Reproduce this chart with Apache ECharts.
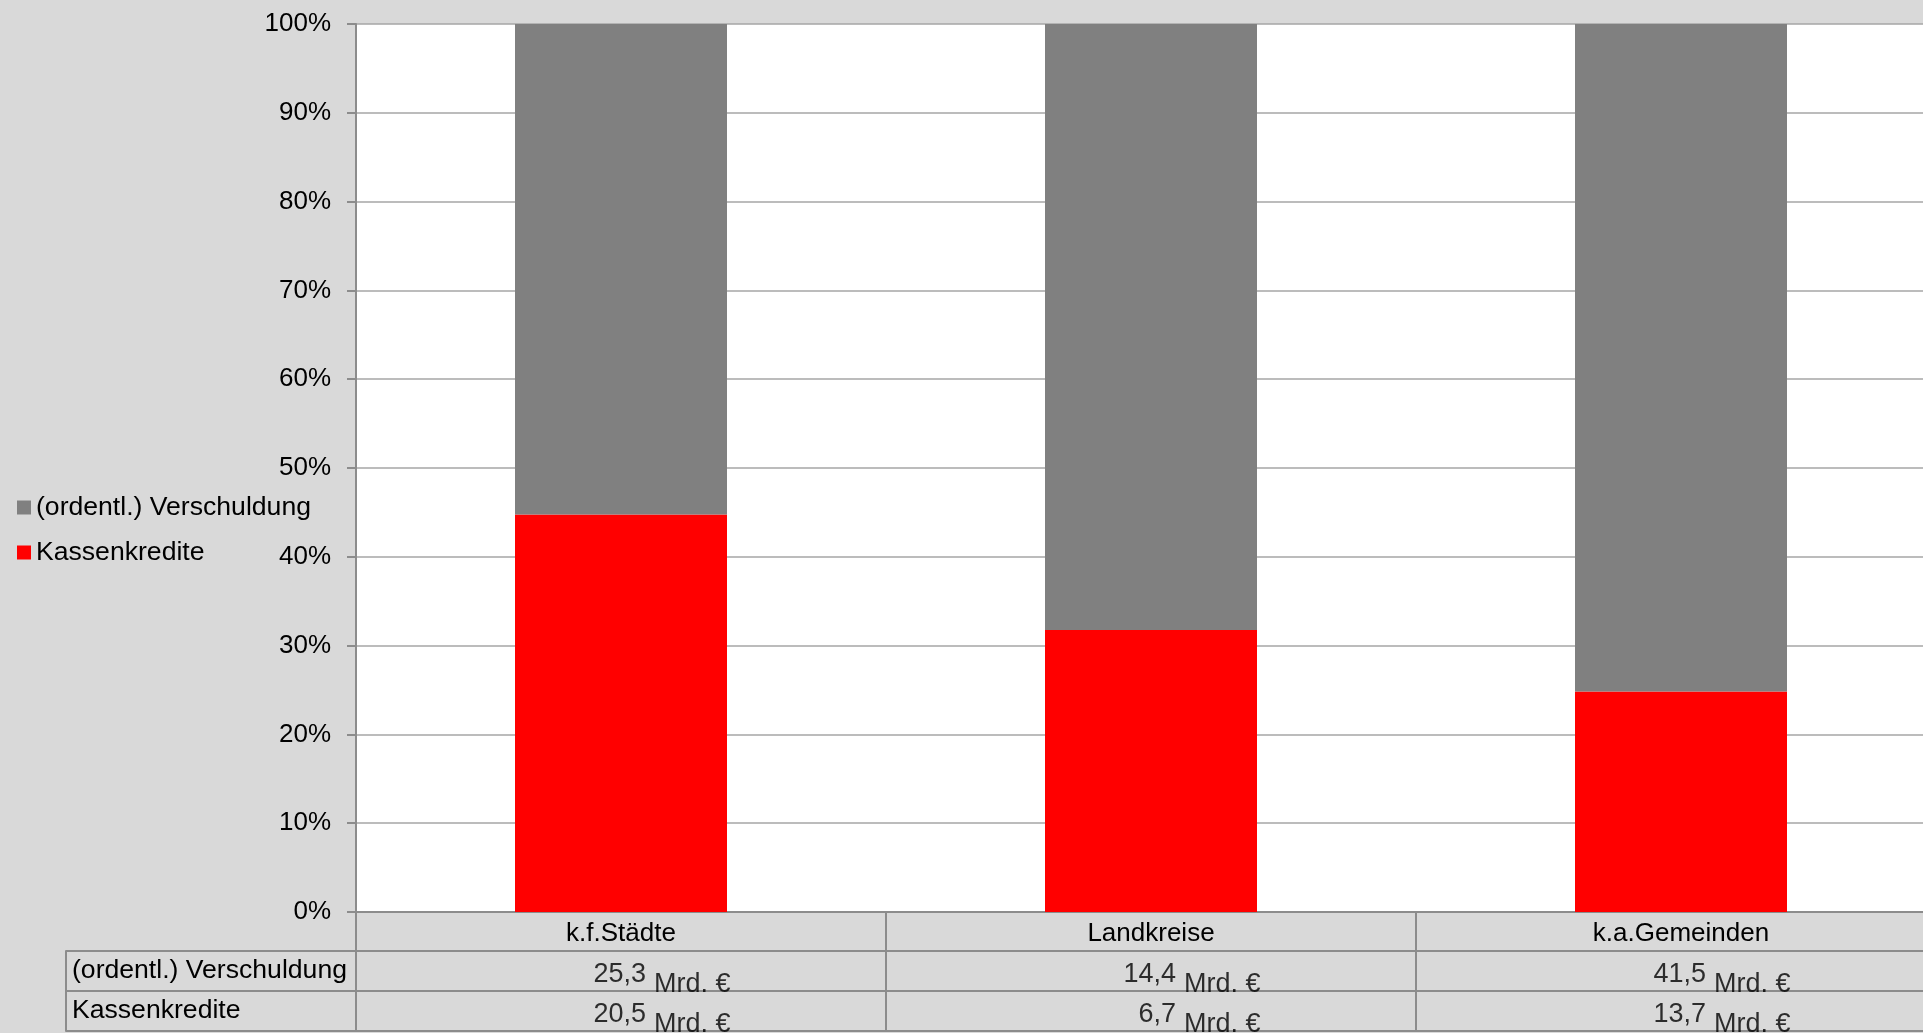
<!DOCTYPE html>
<html>
<head>
<meta charset="utf-8">
<title>Kassenkredite und Verschuldung</title>
<script src="https://cdn.jsdelivr.net/npm/echarts@6/dist/echarts.min.js"></script>
<style>
  html, body { margin: 0; padding: 0; background: #d9d9d9; }
  #chart { width: 1923px; height: 1033px; }
</style>
</head>
<body>
<div id="chart"></div>
<script>
// Werte in Mrd. €
const categories = ['k.f.Städte', 'Landkreise', 'k.a.Gemeinden'];
const verschuldung = [25.3, 14.4, 41.5];
const kassenkredite = [20.5, 6.7, 13.7];
const rowNames = ['(ordentl.) Verschuldung', 'Kassenkredite'];
const yTicks = [0, 10, 20, 30, 40, 50, 60, 70, 80, 90, 100];

const FONT = '"Liberation Sans", Arial, sans-serif';
const LINE = '#8c8c8c';

// Anteile in Prozent (100%-gestapelt)
const totals = categories.map((c, i) => verschuldung[i] + kassenkredite[i]);
const shareKasse = kassenkredite.map((v, i) => v / totals[i] * 100);
const shareVersch = verschuldung.map((v, i) => v / totals[i] * 100);

const fmt = v => v.toFixed(1).replace('.', ',');

// Zellen der Datentabelle
const cells = [];
[verschuldung, kassenkredite].forEach((row, r) => {
    row.forEach((v, i) => cells.push([categories[i], rowNames[r], v]));
});

const chart = echarts.init(document.getElementById('chart'));

chart.setOption({
    backgroundColor: '#d9d9d9',
    animation: false,
    textStyle: { fontFamily: FONT },
    legend: {
        orient: 'vertical',
        left: 12,
        top: 489,
        icon: 'rect',
        itemWidth: 14,
        itemHeight: 14,
        itemGap: 18,
        data: ['(ordentl.) Verschuldung', 'Kassenkredite'],
        textStyle: { fontSize: 26.6, color: '#000', fontFamily: FONT }
    },
    grid: [
        {
            left: 356, top: 24, width: 1590, height: 888,
            outerBoundsMode: 'none',
            show: true, backgroundColor: '#ffffff', borderWidth: 0
        },
        {
            left: 356, top: 951, width: 1590, height: 80,
            outerBoundsMode: 'none',
            show: true, backgroundColor: 'transparent', borderColor: LINE, borderWidth: 2
        }
    ],
    xAxis: [
        {
            type: 'category',
            gridIndex: 0,
            data: categories,
            axisLine: { lineStyle: { color: LINE, width: 2 } },
            axisTick: { show: true, interval: 0, length: 39, lineStyle: { color: LINE, width: 2 } },
            axisLabel: { margin: 9, fontSize: 26, color: '#000', fontFamily: FONT }
        },
        {
            type: 'category',
            gridIndex: 1,
            data: categories,
            position: 'top',
            axisLine: { show: false },
            axisTick: { show: false },
            axisLabel: { show: false },
            splitLine: { show: true, interval: 0, lineStyle: { color: LINE, width: 2 } }
        }
    ],
    yAxis: [
        {
            type: 'value',
            gridIndex: 0,
            min: 0,
            max: 100,
            interval: 10,
            axisLine: { show: true, lineStyle: { color: LINE, width: 2 } },
            axisTick: { show: true, length: 9, lineStyle: { color: LINE, width: 2 } },
            splitLine: { lineStyle: { color: '#a6a6a6', width: 1.5 } },
            axisLabel: {
                margin: 25,
                fontSize: 26,
                color: '#000',
                fontFamily: FONT,
                padding: [2, 0, 0, 0],
                customValues: yTicks,
                formatter: '{value}%'
            }
        },
        {
            type: 'category',
            gridIndex: 1,
            data: rowNames,
            inverse: true,
            axisLine: { show: true, lineStyle: { color: LINE, width: 2 } },
            axisTick: { show: true, interval: 0, length: 290, lineStyle: { color: LINE, width: 2 } },
            splitLine: { show: true, interval: 0, lineStyle: { color: LINE, width: 2 } },
            axisLabel: {
                align: 'left', margin: 284, padding: [4, 0, 0, 0],
                fontSize: 26.6, color: '#000', fontFamily: FONT
            }
        },
        {
            // linker Rand der Tabelle
            type: 'category',
            gridIndex: 1,
            data: rowNames,
            inverse: true,
            position: 'left',
            offset: 290,
            axisLine: { show: true, lineStyle: { color: LINE, width: 2 } },
            axisTick: { show: false },
            axisLabel: { show: false }
        }
    ],
    series: [
        {
            name: 'Kassenkredite',
            type: 'bar',
            stack: 'total',
            barWidth: '40%',
            itemStyle: { color: '#ff0000' },
            data: shareKasse
        },
        {
            name: '(ordentl.) Verschuldung',
            type: 'bar',
            stack: 'total',
            barWidth: '40%',
            itemStyle: { color: '#808080' },
            data: shareVersch
        },
        {
            // Zahlen in der Tabelle
            type: 'scatter',
            xAxisIndex: 1,
            yAxisIndex: 1,
            symbolSize: 1,
            itemStyle: { color: 'transparent' },
            silent: true,
            data: cells,
            label: {
                show: true,
                position: 'inside',
                align: 'right',
                verticalAlign: 'middle',
                offset: [25, 4],
                fontSize: 27,
                color: '#000',
                fontFamily: FONT,
                formatter: p => fmt(p.value[2])
            }
        },
        {
            // Einheit "Mrd. €"
            type: 'scatter',
            xAxisIndex: 1,
            yAxisIndex: 1,
            symbolSize: 1,
            itemStyle: { color: 'transparent' },
            silent: true,
            data: cells,
            label: {
                show: true,
                position: 'inside',
                align: 'left',
                verticalAlign: 'middle',
                offset: [33, 14],
                fontSize: 27,
                color: '#000',
                fontFamily: FONT,
                formatter: 'Mrd. €'
            }
        }
    ]
});
</script>
</body>
</html>
